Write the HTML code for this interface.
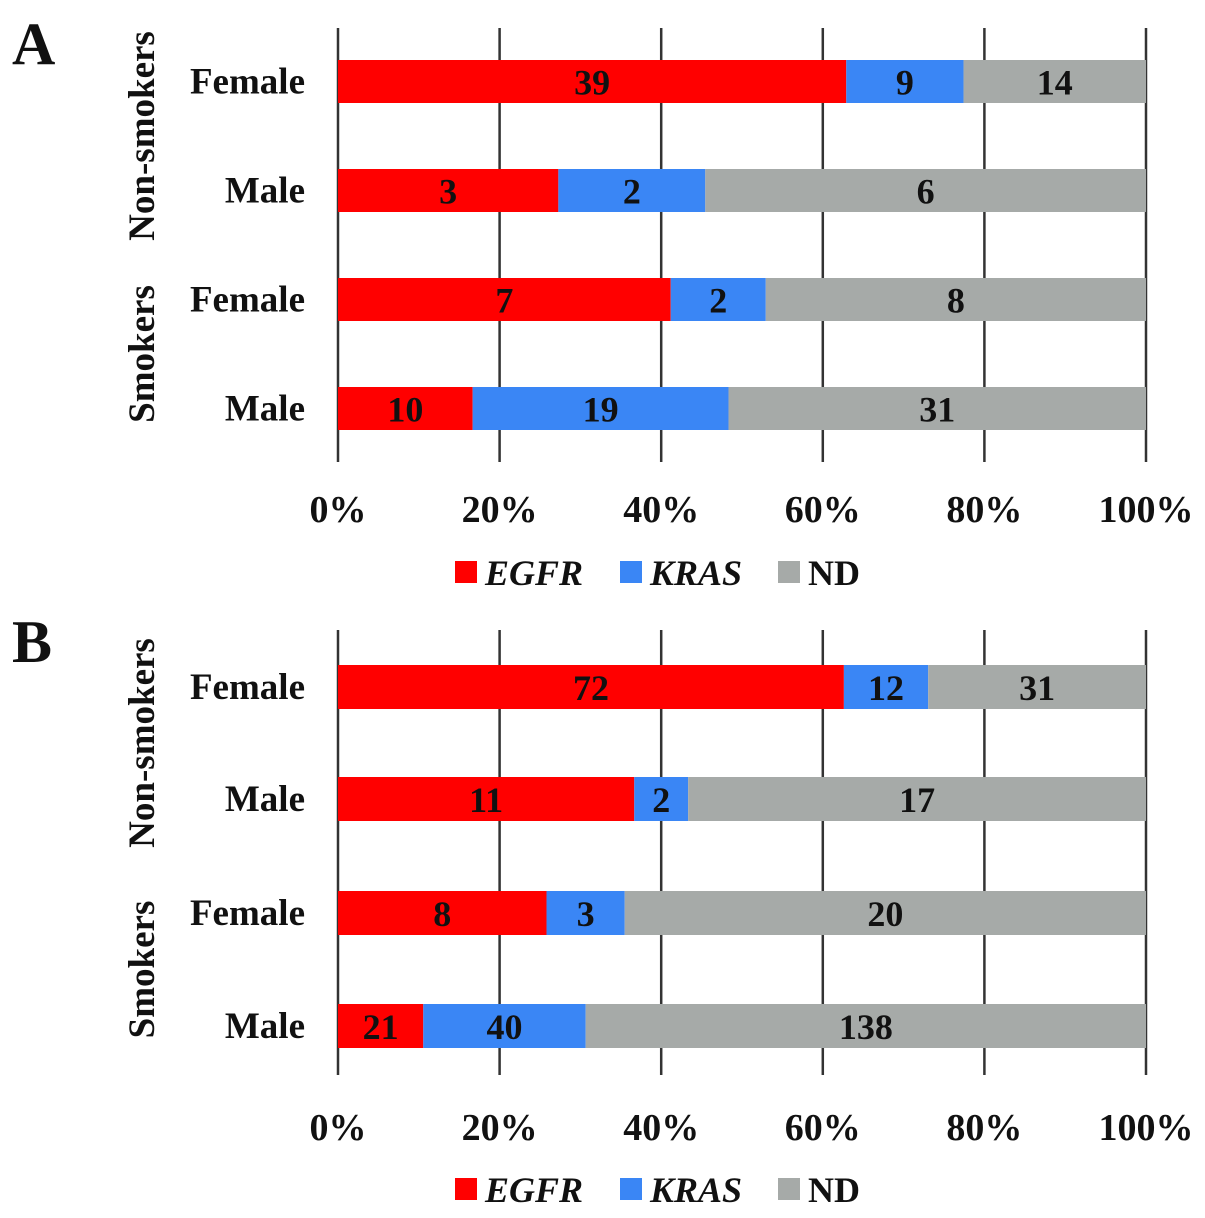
<!DOCTYPE html>
<html><head><meta charset="utf-8"><style>
body{margin:0;background:#fff;}
svg{display:block;font-family:"Liberation Serif",serif;font-weight:bold;}
</style></head><body>
<svg id="c" width="1205" height="1218" viewBox="0 0 1205 1218"></svg>
<script>
const categories = ["Female","Male","Female","Male"];
const groups = ["Non-smokers","Smokers"];
const seriesNames = ["EGFR","KRAS","ND"];
const tickLabels = ["0%","20%","40%","60%","80%","100%"];
const egfrA = [39,3,7,10];
const krasA = [9,2,2,19];
const ndA = [14,6,8,31];
const egfrB = [72,11,8,21];
const krasB = [12,2,3,40];
const ndB = [31,17,20,138];
const colors = ["#ff0000","#3a86f5","#a6aaa8"];
const svg = document.getElementById('c');
const NS = "http://www.w3.org/2000/svg";
function mk(tag, attrs, parent){const e=document.createElementNS(NS,tag);for(const k in attrs)e.setAttribute(k,attrs[k]);(parent||svg).appendChild(e);return e;}
const x0=338,x1=1146;
function xs(p){return x0+(x1-x0)*p;}
function panel(letter, top, gridTop, gridBot, barYs, barH, tickY, legY, data){
  const g=mk('g',{});
  
  
  const t=mk('text',{x:12,y:top,'font-size':60,fill:'#111'},g);t.textContent=letter;
  
  
  tickLabels.forEach((lab,i)=>{
    const p=i/(tickLabels.length-1);
    const l=mk('line',{x1:xs(p),x2:xs(p),y1:gridTop,y2:gridBot,stroke:'#333','stroke-width':2.5},g);
    
    
    const tt=mk('text',{x:xs(p),y:tickY,'font-size':38,'text-anchor':'middle',fill:'#111'},g);tt.textContent=lab;
    
    
  });
  categories.forEach((cat,i)=>{
    const vals=[data[0][i],data[1][i],data[2][i]];
    const tot=vals[0]+vals[1]+vals[2];
    let acc=0;const y=barYs[i];
    vals.forEach((v,j)=>{
      const a=xs(acc/tot),b=xs((acc+v)/tot);
      const r=mk('rect',{x:a,y:y,width:b-a,height:barH,fill:colors[j]},g);
      
      
      const vt=mk('text',{x:(a+b)/2,y:y+barH/2+13,'font-size':36,'text-anchor':'middle',fill:'#111'},g);vt.textContent=v;
      
      
      acc+=v;
    });
    const ct=mk('text',{x:305,y:y+barH/2+12,'font-size':37,'text-anchor':'end',fill:'#111'},g);ct.textContent=cat;
    
    
  });
  [[0,1],[2,3]].forEach((pr,k)=>{
    const cy=(barYs[pr[0]]+barYs[pr[1]]+barH)/2;
    const gt=mk('text',{x:0,y:0,'font-size':37,'text-anchor':'middle',fill:'#111',transform:`translate(154,${cy}) rotate(-90)`},g);gt.textContent=groups[k];
    
    
  });
  const lx=[455,620,778];
  seriesNames.forEach((n,j)=>{
    const r=mk('rect',{x:lx[j],y:legY-12,width:22,height:22,fill:colors[j]},g);
    
    
    const lt=mk('text',{x:lx[j]+30,y:legY+12,'font-size':36,fill:'#111','font-style':j<2?'italic':'normal'},g);lt.textContent=n;
    
    
  });
}
panel('A',64,28,462,[60,169,278,387],43,522,573,[egfrA,krasA,ndA]);
panel('B',662,630,1075,[665,777,891,1004],44,1140,1190,[egfrB,krasB,ndB]);
</script>
</body></html>
